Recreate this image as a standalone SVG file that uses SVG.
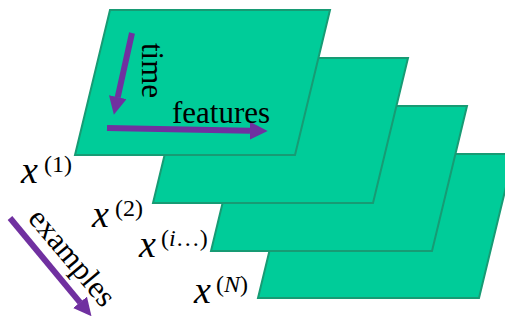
<svg xmlns="http://www.w3.org/2000/svg" width="505" height="320" viewBox="0 0 505 320">
<style>
.plane{fill:#00CC99;stroke:#179B74;stroke-width:2;stroke-linejoin:miter}
.arr{stroke:#7030A0;stroke-width:6;fill:none;marker-end:url(#ah)}
.lbl{font-family:"Liberation Serif","Times New Roman",serif;font-size:31px;fill:#000}
.mx{font-family:"Liberation Serif","Times New Roman",serif;font-size:38px;font-style:italic;fill:#000}
.sup{font-family:"Liberation Serif","Times New Roman",serif;font-size:24px;fill:#000}
.it{font-style:italic}
</style>
<defs>
<marker id="ah" viewBox="0 0 3 3" refX="0.05" refY="1.5" markerWidth="3" markerHeight="3" orient="auto" markerUnits="strokeWidth">
<path d="M0,0 L3,1.5 L0,3 Z" fill="#7030A0"/>
</marker>
</defs>
<g id="plane4"><polygon class="plane" points="293,154 514,154 479,298 258,298"/></g>
<g id="plane3"><polygon class="plane" points="246,106 467,106 432,251 211,251"/></g>
<g id="plane2"><polygon class="plane" points="188,58 408,58 373,203 153,203"/></g>
<g id="plane1"><polygon class="plane" points="110,10 330,10 295,155 75,155"/></g>
<g id="connectors">
<line class="arr" x1="132" y1="33" x2="117.7" y2="97.4"/>
<line class="arr" x1="107" y1="128" x2="250" y2="130.7"/>
<line class="arr" x1="10" y1="218" x2="80.2" y2="302.6"/>
</g>
<g id="labels">
<text class="lbl" transform="translate(27,219) rotate(50)">examples</text>
<text class="lbl" transform="translate(142,43) rotate(90)">time</text>
<text class="lbl" x="172" y="123">features</text>
<g id="x1"><text class="mx" x="21" y="183">x</text><text class="sup" x="44" y="172">(1)</text></g>
<g id="x2"><text class="mx" x="92" y="227">x</text><text class="sup" x="115" y="216">(2)</text></g>
<g id="xi"><text class="mx" x="139" y="257">x</text><text class="sup" x="161" y="246">(<tspan class="it">i</tspan>…)</text></g>
<g id="xN"><text class="mx" x="194" y="303">x</text><text class="sup" x="216" y="292">(<tspan class="it">N</tspan>)</text></g>
</g>
</svg>
